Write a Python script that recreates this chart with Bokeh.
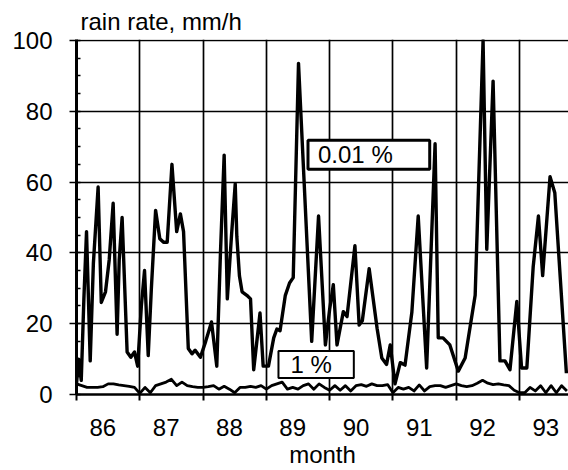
from bokeh.plotting import figure
from bokeh.models import FixedTicker, Range1d, Label
from bokeh.embed import file_html
from bokeh.resources import INLINE

# x is months counted from January 1986
year_labels = ["86", "87", "88", "89", "90", "91", "92", "93"]
year_starts = [0, 12, 24, 36, 48, 60, 72, 84]
year_label_pos = [5, 17, 29, 41, 53, 65, 77, 89]

# rain rate exceeded 0.01 % of the time (mm/h)
months_001 = [0.0, 0.4, 0.9, 1.4, 1.9, 2.6, 3.2, 4.1, 4.7, 5.5, 6.2, 6.95, 7.7, 8.1, 8.65,
              9.6, 10.3, 11.0, 11.6, 12.3, 12.9, 13.6, 14.2, 15.0, 15.8, 16.5, 17.2, 18.1,
              19.0, 19.7, 20.3, 21.2, 21.9, 22.5, 23.5, 24.5, 25.6, 26.6, 27.3, 28.0, 28.6,
              29.4, 30.1, 30.4, 30.9, 31.4, 32.3, 33.0, 33.6, 34.8, 35.4, 36.4, 37.4, 38.0,
              38.6, 39.6, 40.4, 41.1, 42.1, 44.6, 45.9, 47.2, 48.0, 48.7, 49.4, 50.6, 51.3,
              52.8, 53.6, 54.2, 55.5, 57.0, 57.9, 58.8, 59.5, 60.4, 61.4, 62.3, 63.6, 64.8,
              66.4, 68.0, 68.6, 69.5, 70.8, 72.4, 73.7, 74.6, 75.6, 77.1, 77.8, 79.0, 80.3,
              81.25, 82.2, 83.5, 84.4, 85.4, 86.6, 87.6, 88.4, 89.8, 90.7, 92.9]
rain_001 = [3, 10, 4, 27, 46, 9.5, 37, 58.6, 26, 29, 38, 54, 17, 38, 50,
            12, 10.5, 12, 8, 25, 35, 11, 30, 52, 44, 43, 43, 65,
            46, 51, 46, 13, 11.5, 12.5, 10.5, 15, 20.5, 8, 40, 67.6, 27,
            45, 59.5, 44.7, 33.5, 29, 28, 27, 7, 23, 8, 8, 16, 18.5,
            18, 28, 31.5, 33, 93.5, 15, 50.4, 14, 24, 31, 14, 23.4, 22,
            42, 19.6, 20.8, 35.5, 18.7, 10.3, 8.5, 14, 3, 9, 8.3, 23.3, 50.4,
            7.5, 70.8, 16, 16, 14, 6.6, 10.3, 18.7, 28, 100, 41, 88.5, 9.5,
            9.5, 7, 26.3, 7.5, 7.5, 36, 50.4, 33.6, 61.5, 57, 6]

# rain rate exceeded 1 % of the time (mm/h), one value per month
months_1 = list(range(94))
rain_1 = [3, 2.5, 2, 2, 2, 2.2, 3, 3, 2.7, 2.5, 2.3, 2, 0.3, 2, 0.5, 2.5, 3, 3.5, 4.3, 2.5,
          3.5, 2.5, 2.2, 2, 2, 2.2, 2.5, 1.5, 2.3, 1.5, 0.5, 2, 2, 2.3, 2, 2.5, 1.5, 2.5,
          3, 3.5, 1.5, 2, 1.5, 2.5, 3, 1.5, 3, 2, 1.2, 2.5, 1.2, 2.5, 1, 2.5, 2.8, 2.3,
          3, 2.5, 2.5, 2.8, 0.5, 2, 1.5, 2, 1, 2.7, 1, 2.2, 2.5, 2.5, 2, 2.5, 3, 2.5,
          2.2, 2.5, 3.2, 4, 3.2, 2.8, 3, 2.7, 2.5, 1.2, 0.5, 0.5, 2, 1, 2.5, 0.5, 2.5,
          0.5, 2.5, 1]

y_major = [0, 20, 40, 60, 80, 100]
y_minor = list(range(0, 101, 5))

FONT = "Liberation Sans"

p = figure(width=568, height=470, output_backend="svg", toolbar_location=None,
           x_range=Range1d(0, 93.3), y_range=Range1d(0, 100.25),
           min_border_left=76, min_border_right=0, min_border_top=39, min_border_bottom=0)
p.outline_line_color = None
p.background_fill_color = "white"
p.border_fill_color = "white"

p.title.text = "rain rate, mm/h"
p.title.text_font = FONT
p.title.text_font_size = "24px"
p.title.text_font_style = "normal"
p.title.text_color = "black"
p.title.align = "left"
p.title.offset = 4
p.title.standoff = 9

# grids
p.xgrid.ticker = FixedTicker(ticks=year_starts[1:])
p.ygrid.ticker = FixedTicker(ticks=y_major[1:])
for g in (p.xgrid, p.ygrid):
    g.grid_line_color = "black"
    g.grid_line_width = 1.7
    g.grid_line_alpha = 1.0

# x axis
xa = p.xaxis[0]
xa.ticker = FixedTicker(ticks=year_label_pos, minor_ticks=year_starts)
xa.major_label_overrides = {pos: lab for pos, lab in zip(year_label_pos, year_labels)}
xa.major_tick_line_color = None
xa.minor_tick_line_color = "black"
xa.minor_tick_line_width = 2
xa.minor_tick_out = 6
xa.minor_tick_in = 0
xa.axis_line_width = 2.5
xa.axis_line_color = "black"
xa.major_label_text_font = FONT
xa.major_label_text_font_size = "24px"
xa.major_label_text_color = "black"
xa.major_label_standoff = 18
xa.axis_label = "month"
xa.axis_label_text_font = FONT
xa.axis_label_text_font_size = "24px"
xa.axis_label_text_font_style = "normal"
xa.axis_label_text_color = "black"
xa.axis_label_standoff = 2

# y axis
ya = p.yaxis[0]
ya.ticker = FixedTicker(ticks=y_major, minor_ticks=y_minor)
ya.major_tick_line_color = "black"
ya.major_tick_line_width = 1.7
ya.major_tick_out = 7
ya.major_tick_in = 0
ya.minor_tick_line_color = "black"
ya.minor_tick_line_width = 1.5
ya.minor_tick_out = 0
ya.minor_tick_in = 4
ya.axis_line_width = 3
ya.axis_line_color = "black"
ya.major_label_text_font = FONT
ya.major_label_text_font_size = "24px"
ya.major_label_text_color = "black"
ya.major_label_standoff = 17

p.line(months_001, rain_001, line_color="black", line_width=3.4, line_join="round")
p.line(months_1, rain_1, line_color="black", line_width=2.8, line_join="round")

# padding order as rendered: (left, right, top, bottom)
lab1 = Label(x=43.9, y=71.8, text="0.01 %", anchor="top_left",
             text_font=FONT, text_font_size="24px", text_color="black",
             background_fill_color="white", border_line_color="black",
             border_line_width=3, padding=(10, 37, 1, 1))
lab2 = Label(x=38.3, y=12.3, text="1 %", anchor="top_left",
             text_font=FONT, text_font_size="24px", text_color="black",
             background_fill_color="white", border_line_color="black",
             border_line_width=2, padding=(12, 22, 0, 0))
p.add_layout(lab1)
p.add_layout(lab2)

open("out.html", "w").write(file_html(p, INLINE))
